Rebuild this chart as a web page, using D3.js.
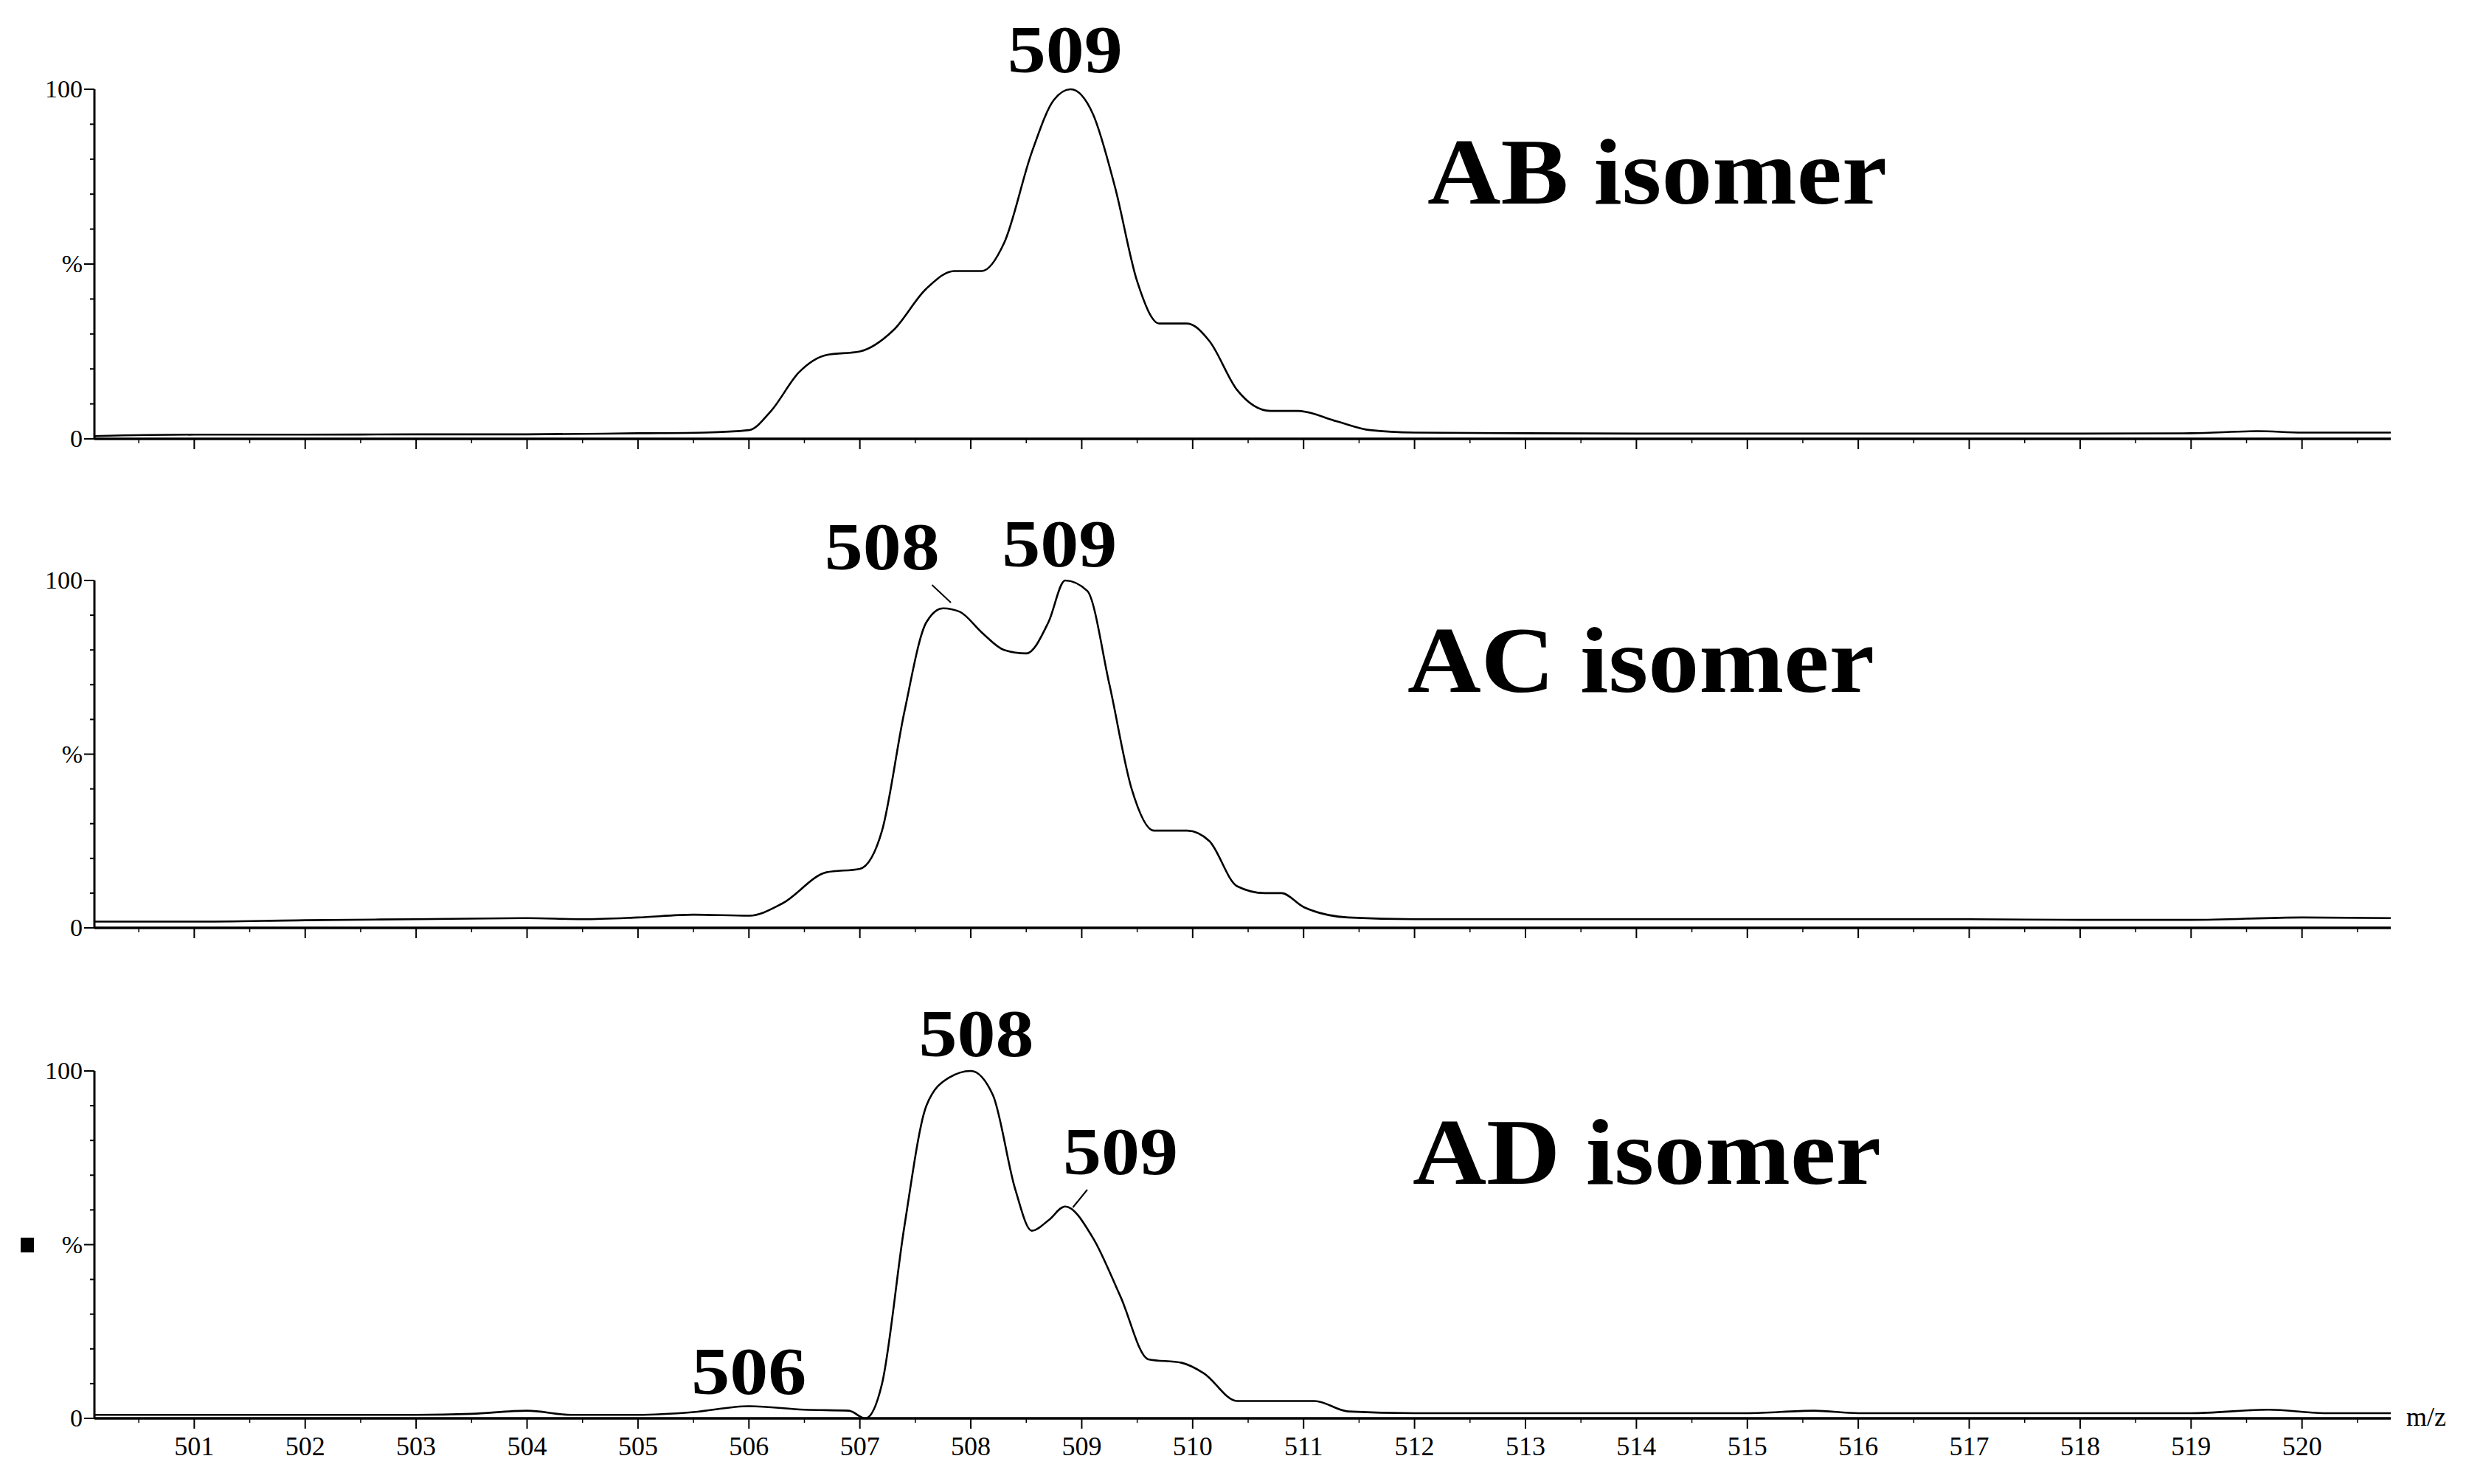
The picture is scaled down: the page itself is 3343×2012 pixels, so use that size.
<!DOCTYPE html>
<html>
<head>
<meta charset="utf-8">
<script src="https://cdn.jsdelivr.net/npm/d3@7"></script>
<style>
  body { margin: 0; background: #fff; }
  text { font-family: "Liberation Serif", "DejaVu Serif", serif; }
</style>
</head>
<body>
<div id="chart"></div>
<script>
// m/z range and ticks
const mzTicks = d3.range(501, 521)
const yTickLabels = ["0", "%", "100"]

// spectra: [m/z, %]
const abMz  = [500.1,501,502,503,504,505,505.6,506.0,506.2,506.45,506.7,507.0,507.3,507.6,507.85,508.1,508.3,508.55,508.75,508.9,509.1,509.3,509.5,509.7,509.95,510.15,510.4,510.7,510.95,511.3,511.6,512,513,514,515,516,517,518,519,519.6,520,520.8]
const abVal = [0.8,1.2,1.2,1.3,1.3,1.6,1.8,2.5,8,19,24,25,31,43,48,48,56,82,97,100,93,72,45,33,33,28,14,8,8,5,2.5,1.8,1.6,1.5,1.5,1.5,1.5,1.5,1.6,2.2,1.8,1.8]

const acMz  = [500.1,501,502,503,504,504.5,505,505.5,506.0,506.3,506.7,507.0,507.2,507.4,507.6,507.75,507.9,508.1,508.3,508.5,508.7,508.85,509.05,509.25,509.45,509.65,509.95,510.15,510.4,510.65,510.8,511.0,511.4,512,513,514,515,516,517,518,519,520,520.8]
const acVal = [1.8,1.8,2.2,2.5,2.8,2.5,3,3.8,3.5,7,16,17,28,62,88,92,91,85,80,79,88,100,97,70,40,28,28,25,12,10,10,6,3,2.5,2.5,2.5,2.5,2.5,2.5,2.3,2.3,3,2.8]

const adMz  = [500.1,501,502,503,503.5,504,504.4,505,505.5,506.0,506.5,506.9,507.05,507.2,507.4,507.6,507.8,508.0,508.2,508.4,508.55,508.7,508.85,509.1,509.35,509.6,509.9,510.1,510.4,510.8,511.1,511.4,512,513,514,515,515.6,516,517,518,519,519.7,520.2,520.8]
const adVal = [1,1,1,1,1.3,2.2,1,1,1.8,3.5,2.5,2.2,0,10,55,90,98,100,93,66,54,57,61,52,35,17,16,13,5,5,5,2,1.5,1.5,1.5,1.5,2.2,1.5,1.5,1.5,1.5,2.5,1.5,1.5]

const panels = [
  {mz: abMz, val: abVal, top: 121, bottom: 595, title: "AB isomer", titleX: 1935, titleY: 276, titleW: 623},
  {mz: acMz, val: acVal, top: 787, bottom: 1258, title: "AC isomer", titleX: 1908, titleY: 938, titleW: 633},
  {mz: adMz, val: adVal, top: 1452, bottom: 1923, title: "AD isomer", titleX: 1915, titleY: 1605, titleW: 635}
]

// peak annotations: [panel, label, label m/z, label y (px), leader]
const peakLabels = [
  [0, "509", 508.85, 98, null],
  [1, "508", 507.2, 772, [[507.65, 793], [507.82, 817]]],
  [1, "509", 508.8, 768, null],
  [2, "508", 508.05, 1432, null],
  [2, "509", 509.35, 1592, [[509.05, 1613], [508.92, 1637]]],
  [2, "506", 506.0, 1890, null]
]

const W = 3343, H = 2012
const svg = d3.select("#chart").append("svg").attr("width", W).attr("height", H)

const x = d3.scaleLinear().domain([500.1, 520.8]).range([128, 3241])

panels.forEach((p, i) => {
  const y = d3.scaleLinear().domain([0, 100]).range([p.bottom, p.top])

  // x axis
  const gx = svg.append("g").attr("transform", "translate(0," + p.bottom + ")")
  gx.append("line").attr("x1", x.range()[0]).attr("x2", x.range()[1]).attr("stroke", "#000").attr("stroke-width", 3.5)
  gx.selectAll(".mt").data(d3.range(501, 521)).enter().append("line")
    .attr("x1", d => x(d)).attr("x2", d => x(d)).attr("y1", 0).attr("y2", 14)
    .attr("stroke", "#000").attr("stroke-width", 2)
  gx.selectAll(".mn").data(d3.range(500.5, 520.6, 1)).enter().append("line")
    .attr("x1", d => x(d)).attr("x2", d => x(d)).attr("y1", 0).attr("y2", 6)
    .attr("stroke", "#000").attr("stroke-width", 1.5)
  if (i === 2) {
    gx.selectAll(".tl").data(mzTicks).enter().append("text")
      .attr("x", d => x(d)).attr("y", 50).attr("text-anchor", "middle")
      .attr("font-size", 36).text(d => d)
    gx.append("text").attr("x", 3262).attr("y", 10).attr("font-size", 36).text("m/z")
  }

  // y axis
  const gy = svg.append("g").attr("transform", "translate(128,0)")
  gy.append("line").attr("y1", p.top).attr("y2", p.bottom).attr("stroke", "#000").attr("stroke-width", 3)
  gy.selectAll(".yt").data(d3.range(0, 101, 10)).enter().append("line")
    .attr("x1", d => (d % 50 === 0 ? -14 : -6)).attr("x2", 0)
    .attr("y1", d => y(d)).attr("y2", d => y(d)).attr("stroke", "#000").attr("stroke-width", 2)
  gy.selectAll(".yl").data([0, 50, 100]).enter().append("text")
    .attr("x", -16).attr("y", d => y(d) + 11).attr("text-anchor", "end")
    .attr("font-size", 34).text((d, k) => yTickLabels[k])

  // spectrum
  const pts = p.mz.map((m, k) => [m, p.val[k]])
  const line = d3.line().x(d => x(d[0])).y(d => y(d[1])).curve(d3.curveMonotoneX)
  svg.append("path").datum(pts).attr("d", line)
    .attr("fill", "none").attr("stroke", "#000").attr("stroke-width", 2.6)

  svg.append("text").attr("x", p.titleX).attr("y", p.titleY)
    .attr("font-size", 128).attr("font-weight", "bold")
    .attr("textLength", p.titleW).attr("lengthAdjust", "spacingAndGlyphs").text(p.title)
})

svg.append("rect").attr("x", 28).attr("y", 1678).attr("width", 18).attr("height", 20).attr("fill", "#000")

peakLabels.forEach(([pi, label, m, ly, leader]) => {
  svg.append("text").attr("x", x(m) - 78).attr("y", ly)
    .attr("font-size", 92).attr("font-weight", "bold")
    .attr("textLength", 156).attr("lengthAdjust", "spacingAndGlyphs").text(label)
  if (leader) {
    svg.append("line").attr("x1", x(leader[0][0])).attr("y1", leader[0][1])
      .attr("x2", x(leader[1][0])).attr("y2", leader[1][1])
      .attr("stroke", "#000").attr("stroke-width", 2)
  }
})
</script>
</body>
</html>
